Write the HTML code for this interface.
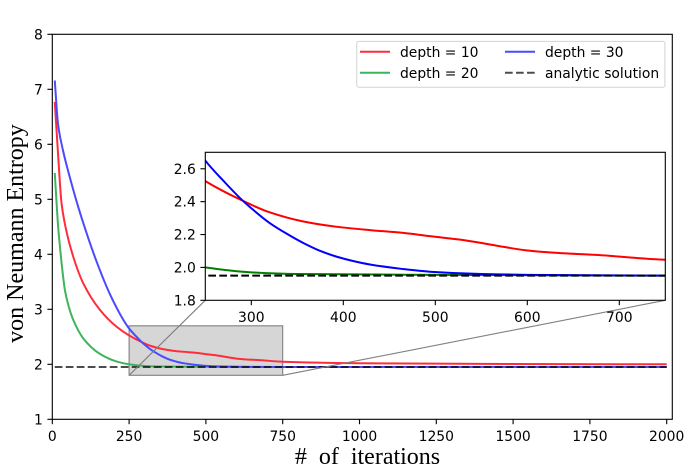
<!DOCTYPE html>
<html>
<head>
<meta charset="utf-8">
<style>
html,body{margin:0;padding:0;background:#fff;}
svg{display:block;}
text{font-family:"DejaVu Sans",sans-serif;font-size:13.89px;fill:#000;}
.serif{font-family:"Liberation Serif",serif;font-size:24px;fill:#000;}
</style>
</head>
<body>
<svg id="chart" width="693" height="476" viewBox="0 0 693 476" xmlns="http://www.w3.org/2000/svg"></svg>
<script>
const iterRed = [8,19,30,41,68,101,155,210,250,289,320,356,393,429,465,494,530,567,599,628,675,750,1000,1500,2000];
const valRed = [6.77,5.8,4.93,4.55,3.96,3.47,2.99,2.68,2.525,2.41,2.335,2.28,2.247,2.227,2.21,2.19,2.167,2.132,2.104,2.09,2.076,2.047,2.02,2.005,2.0];
const iterGreen = [8,14,19,25,33,41,52,68,101,155,210,250,300,350,500,750,1000,2000];
const valGreen = [5.48,4.93,4.5,4.13,3.7,3.35,3.08,2.81,2.47,2.19,2.05,2.0,1.97,1.96,1.955,1.95,1.95,1.95];
const iterBlue = [8,19,36,58,85,112,144,188,231,250,270,289,300,320,340,356,375,393,410,429,465,494,550,600,750,1000,2000];
const valBlue = [7.16,6.35,5.86,5.38,4.85,4.38,3.87,3.27,2.81,2.65,2.525,2.415,2.36,2.27,2.2,2.15,2.1,2.065,2.04,2.018,1.99,1.974,1.96,1.955,1.95,1.95,1.95];
const analyticValue = [1.95];
const analyticRange = [8,2000];
const xTicks = [0,250,500,750,1000,1250,1500,1750,2000];
const yTicks = [1,2,3,4,5,6,7,8];
const insetXTicks = [300,400,500,600,700];
const insetYTicks = ["1.8","2.0","2.2","2.4","2.6"];
const zoomRangeX = [250,750];
const zoomRangeY = [1.8,2.7];
const legendLabels = ["depth = 10","depth = 20","depth = 30","analytic solution"];

const NS = "http://www.w3.org/2000/svg";
const svg = document.getElementById("chart");
const X = v => 52.3 + v * 0.3072;
const Y = v => 419.3 - (v - 1) * 55;
const IX = v => 205.3 + (v - 250) * 0.92;
const IY = v => 300.3 - (v - 1.8) * 164.4;

function mk(tag, attrs, text, parent) {
  const el = document.createElementNS(NS, tag);
  for (const k in attrs) el.setAttribute(k, attrs[k]);
  if (text !== undefined && text !== null) el.textContent = text;
  (parent || svg).appendChild(el);
  return el;
}
/* monotone cubic through the data, converted to bezier segments */
function smooth(xs, ys, fx, fy) {
  const px = xs.map(fx), py = ys.map(fy), n = px.length;
  const sec = [];
  for (let i = 0; i < n - 1; i++) sec.push((py[i + 1] - py[i]) / (px[i + 1] - px[i]));
  const m = new Array(n);
  m[0] = sec[0];
  m[n - 1] = sec[n - 2];
  for (let i = 1; i < n - 1; i++) {
    if (sec[i - 1] * sec[i] <= 0) { m[i] = 0; continue; }
    const h0 = px[i] - px[i - 1], h1 = px[i + 1] - px[i];
    const w0 = 2 * h1 + h0, w1 = h1 + 2 * h0;
    m[i] = (w0 + w1) / (w0 / sec[i - 1] + w1 / sec[i]);
  }
  let d = "M" + px[0].toFixed(2) + " " + py[0].toFixed(2);
  for (let i = 0; i < n - 1; i++) {
    const h = (px[i + 1] - px[i]) / 3;
    d += " C" + (px[i] + h).toFixed(2) + " " + (py[i] + m[i] * h).toFixed(2) +
         " " + (px[i + 1] - h).toFixed(2) + " " + (py[i + 1] - m[i + 1] * h).toFixed(2) +
         " " + px[i + 1].toFixed(2) + " " + py[i + 1].toFixed(2);
  }
  return d;
}

const defs = mk("defs", {});
const clip = mk("clipPath", {id: "inset-clip"}, null, defs);
mk("rect", {x: 205.3, y: 152.3, width: 460, height: 148}, null, clip);

/* main axes background */
const bg = mk("rect", {x: 52.3, y: 34.3, width: 620, height: 385, fill: "#fff"});



/* zoom indicator box */
const zoomBox = mk("rect", {
  x: X(zoomRangeX[0]), y: Y(zoomRangeY[1]),
  width: X(zoomRangeX[1]) - X(zoomRangeX[0]),
  height: Y(zoomRangeY[0]) - Y(zoomRangeY[1]),
  fill: "#d6d6d6", stroke: "#808080", "stroke-width": 1.1
});



/* main series */
const mainRed = mk("path", {d: smooth(iterRed, valRed, X, Y), fill: "none", stroke: "#ff2d3c", "stroke-width": 2});


const mainGreen = mk("path", {d: smooth(iterGreen, valGreen, X, Y), fill: "none", stroke: "#3fb45c", "stroke-width": 2});


const mainBlue = mk("path", {d: smooth(iterBlue, valBlue, X, Y), fill: "none", stroke: "#4a4aff", "stroke-width": 2});


const mainAnalytic = mk("line", {x1: X(analyticRange[0]), x2: X(analyticRange[1]), y1: Y(analyticValue[0]), y2: Y(analyticValue[0]), stroke: "#000", "stroke-opacity": 0.7, "stroke-width": 2, "stroke-dasharray": "7.7 3.3"});



/* connectors */
const conn1 = mk("line", {x1: X(zoomRangeX[0]), y1: Y(zoomRangeY[0]), x2: 205.3, y2: 300.3, stroke: "#808080", "stroke-width": 1.1});


const conn2 = mk("line", {x1: X(zoomRangeX[1]), y1: Y(zoomRangeY[0]), x2: 665.3, y2: 300.3, stroke: "#808080", "stroke-width": 1.1});



/* main spines */
const frame = mk("rect", {x: 52.3, y: 34.3, width: 620, height: 385, fill: "none", stroke: "#000", "stroke-width": 1.1});



/* main ticks */
xTicks.forEach(v => {
  const t = mk("line", {x1: X(v), x2: X(v), y1: 419.3, y2: 424.2, stroke: "#000", "stroke-width": 1.1});
  
  
  const l = mk("text", {x: X(v), y: 441, "text-anchor": "middle"}, String(v));
  
  
});
yTicks.forEach(v => {
  const t = mk("line", {x1: 47.4, x2: 52.3, y1: Y(v), y2: Y(v), stroke: "#000", "stroke-width": 1.1});
  
  
  const l = mk("text", {x: 42.8, y: Y(v) + 5, "text-anchor": "end"}, String(v));
  
  
});

/* axis titles */
const xTitle = mk("text", {x: 367.5, y: 464, "text-anchor": "middle", class: "serif", "xml:space": "preserve", style: "white-space:pre"}, "#  of  iterations");


const yTitle = mk("text", {x: 0, y: 0, "text-anchor": "middle", class: "serif", transform: "translate(23 233.5) rotate(-90)"}, "von Neumann Entropy");



/* inset */
const insetBg = mk("rect", {x: 205.3, y: 152.3, width: 460, height: 148, fill: "#fff"});


const insetGroup = mk("g", {"clip-path": "url(#inset-clip)"});


const inRed = mk("path", {d: smooth(iterRed, valRed, IX, IY), fill: "none", stroke: "#f00", "stroke-width": 2}, null, insetGroup);


const inGreen = mk("path", {d: smooth(iterGreen, valGreen, IX, IY), fill: "none", stroke: "#008000", "stroke-width": 2}, null, insetGroup);


const inBlue = mk("path", {d: smooth(iterBlue, valBlue, IX, IY), fill: "none", stroke: "#00f", "stroke-width": 2}, null, insetGroup);


const inAnalytic = mk("line", {x1: IX(zoomRangeX[0]) + 3, x2: IX(zoomRangeX[1]), y1: IY(analyticValue[0]), y2: IY(analyticValue[0]), stroke: "#000", "stroke-width": 2, "stroke-dasharray": "7.7 3.3"}, null, insetGroup);


const insetFrame = mk("rect", {x: 205.3, y: 152.3, width: 460, height: 148, fill: "none", stroke: "#000", "stroke-width": 1.1});


insetXTicks.forEach(v => {
  const t = mk("line", {x1: IX(v), x2: IX(v), y1: 300.3, y2: 305.2, stroke: "#000", "stroke-width": 1.1});
  
  
  const l = mk("text", {x: IX(v), y: 322, "text-anchor": "middle"}, String(v));
  
  
});
insetYTicks.forEach(s => {
  const v = parseFloat(s);
  const t = mk("line", {x1: 200.4, x2: 205.3, y1: IY(v), y2: IY(v), stroke: "#000", "stroke-width": 1.1});
  
  
  const l = mk("text", {x: 195.8, y: IY(v) + 5, "text-anchor": "end"}, s);
  
  
});

/* legend */
const legend = mk("g", {});


mk("rect", {x: 356.7, y: 41.4, width: 308.2, height: 45.8, rx: 2, fill: "#fff", "fill-opacity": 0.8, stroke: "#d3d3d3", "stroke-width": 1}, null, legend);
const legendColors = ["#ff2d3c", "#3fb45c", "#4a4aff", "#4d4d4d"];
const legendCols = [[360, 400], [360, 400], [505, 545], [505, 545]];
const legendRows = [51.7, 72.7, 51.7, 72.7];
legendLabels.forEach((s, i) => {
  const h = mk("line", {x1: legendCols[i][0], x2: legendCols[i][0] + 30, y1: legendRows[i], y2: legendRows[i], stroke: legendColors[i], "stroke-width": 2}, null, legend);
  if (i === 3) h.setAttribute("stroke-dasharray", "7.7 3.3");
  
  
  const t = mk("text", {x: legendCols[i][1], y: legendRows[i] + 5.5}, s, legend);
  
  
});
</script>
</body>
</html>
